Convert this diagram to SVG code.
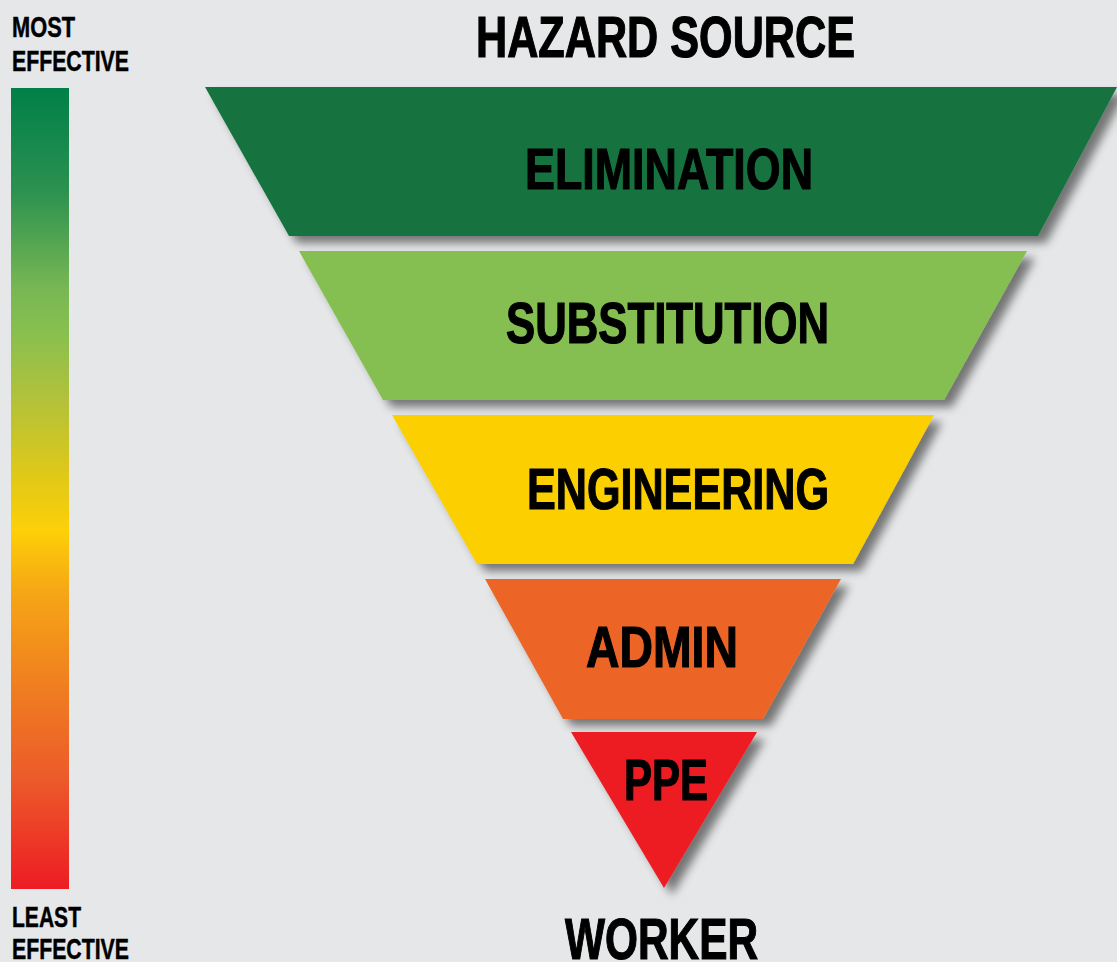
<svg xmlns="http://www.w3.org/2000/svg" width="1117" height="962" viewBox="0 0 1117 962">
  <style>
    .lbl { font-family: "Liberation Sans", Arial, sans-serif; font-weight: bold; fill: #000; }
    .big { font-size: 58px; stroke: #000; stroke-width: 1.2px; }
    .small { font-size: 30px; stroke: #000; stroke-width: 0.5px; }
    .tier { filter: url(#shadow); }
  </style>
  <defs>
    <linearGradient id="effectiveness" x1="0" y1="0" x2="0" y2="1">
      <stop offset="0" stop-color="#008048"/>
      <stop offset="0.127" stop-color="#2b9150"/>
      <stop offset="0.252" stop-color="#79b753"/>
      <stop offset="0.30" stop-color="#86bf50"/>
      <stop offset="0.39" stop-color="#b3c23a"/>
      <stop offset="0.49" stop-color="#e2c916"/>
      <stop offset="0.552" stop-color="#fdd008"/>
      <stop offset="0.627" stop-color="#f6a715"/>
      <stop offset="0.74" stop-color="#f08020"/>
      <stop offset="0.864" stop-color="#ec5a2a"/>
      <stop offset="1" stop-color="#ed1c24"/>
    </linearGradient>
    <filter id="shadow" x="-10%" y="-10%" width="130%" height="130%">
      <feGaussianBlur in="SourceAlpha" stdDeviation="5"/>
      <feOffset dx="8" dy="7" result="blur"/>
      <feComponentTransfer>
        <feFuncA type="linear" slope="0.5"/>
      </feComponentTransfer>
      <feMerge>
        <feMergeNode/>
        <feMergeNode in="SourceGraphic"/>
      </feMerge>
    </filter>
  </defs>

  <rect width="1117" height="962" fill="#e6e7e8"/>

  <!-- effectiveness scale -->
  <g id="scale">
    <rect x="11" y="88" width="58" height="801" fill="url(#effectiveness)"/>
    <text class="lbl small" x="12" y="37" textLength="63" lengthAdjust="spacingAndGlyphs">MOST</text>
    <text class="lbl small" x="12" y="71" textLength="117" lengthAdjust="spacingAndGlyphs">EFFECTIVE</text>
    <text class="lbl small" x="12" y="927" textLength="69" lengthAdjust="spacingAndGlyphs">LEAST</text>
    <text class="lbl small" x="12" y="959" textLength="117" lengthAdjust="spacingAndGlyphs">EFFECTIVE</text>
  </g>

  <g id="hazard-source">
    <text class="lbl big" x="476" y="57" textLength="379" lengthAdjust="spacingAndGlyphs">HAZARD SOURCE</text>
  </g>

  <g id="elimination">
    <polygon class="tier" points="205,87 1117,87 1038,236 289,236" fill="#177340"/>
    <text class="lbl big" x="525" y="189" textLength="288" lengthAdjust="spacingAndGlyphs">ELIMINATION</text>
  </g>

  <g id="substitution">
    <polygon class="tier" points="299,251 1027,251 944,400 383,400" fill="#85bf51"/>
    <text class="lbl big" x="506" y="343" textLength="323" lengthAdjust="spacingAndGlyphs">SUBSTITUTION</text>
  </g>

  <g id="engineering">
    <polygon class="tier" points="392,415 934,415 853,564 477,564" fill="#fccf05"/>
    <text class="lbl big" x="527" y="509" textLength="302" lengthAdjust="spacingAndGlyphs">ENGINEERING</text>
  </g>

  <g id="admin">
    <polygon class="tier" points="485,579 841,579 763,719 563,719" fill="#ec6527"/>
    <text class="lbl big" x="586" y="667" textLength="152" lengthAdjust="spacingAndGlyphs">ADMIN</text>
  </g>

  <g id="ppe">
    <polygon class="tier" points="571,732 757,732 664,888" fill="#ec1c24"/>
    <text class="lbl big" x="624" y="800" textLength="84" lengthAdjust="spacingAndGlyphs">PPE</text>
  </g>

  <g id="worker">
    <text class="lbl big" x="565" y="959" textLength="193" lengthAdjust="spacingAndGlyphs">WORKER</text>
  </g>

  <g id="connectors"/>
</svg>
